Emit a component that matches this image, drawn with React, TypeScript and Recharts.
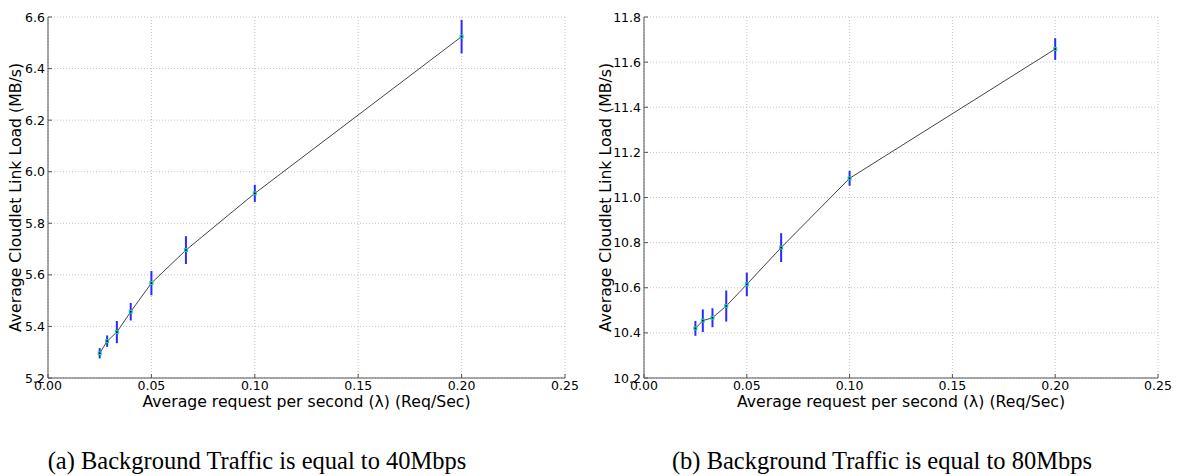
import { LineChart, Line, XAxis, YAxis, CartesianGrid, ErrorBar, Label } from "recharts";

// request rates (1/40 ... 1/5 req/sec)
const rates = [0.025, 0.0286, 0.0333, 0.04, 0.05, 0.0667, 0.1, 0.2];

// 40 Mbps background traffic
const load40 = [5.296, 5.343, 5.378, 5.457, 5.568, 5.696, 5.916, 6.524];
const err40 = [0.02, 0.022, 0.043, 0.034, 0.047, 0.054, 0.033, 0.065];

// 80 Mbps background traffic
const load80 = [10.42, 10.454, 10.467, 10.519, 10.615, 10.778, 11.085, 11.658];
const err80 = [0.033, 0.05, 0.042, 0.069, 0.052, 0.064, 0.033, 0.048];

const xTicks = [0, 0.05, 0.1, 0.15, 0.2, 0.25];
const yTicks40 = [5.2, 5.4, 5.6, 5.8, 6.0, 6.2, 6.4, 6.6];
const yTicks80 = [10.2, 10.4, 10.6, 10.8, 11.0, 11.2, 11.4, 11.6, 11.8];

const xTitle = "Average request per second (\u03bb) (Req/Sec)";
const yTitle = "Average Cloudlet Link Load (MB/s)";
const captions = [
  "(a) Background Traffic is equal to 40Mbps",
  "(b) Background Traffic is equal to 80Mbps",
];

const FONT = "'DejaVu Sans', sans-serif";
const FRAME = "#555";
const TICK_LEN = 4;
const MARGIN = 3;

function BottomTick(props: any) {
  const { x, y, payload } = props;
  const axisY = y - MARGIN;
  return (
    <g>
      <line x1={x} x2={x} y1={axisY} y2={axisY - TICK_LEN} stroke={FRAME} />
      <text x={x} y={y} dy="0.71em" textAnchor="middle" fontSize={12.5} fontFamily={FONT} fill="#000">
        {Number(payload.value).toFixed(2)}
      </text>
    </g>
  );
}

function LeftTick(props: any) {
  const { x, y, payload } = props;
  const axisX = x + MARGIN;
  return (
    <g>
      <line x1={axisX} x2={axisX + TICK_LEN} y1={y} y2={y} stroke={FRAME} />
      <text x={x} y={y} dy="0.36em" textAnchor="end" fontSize={12.5} fontFamily={FONT} fill="#000">
        {Number(payload.value).toFixed(1)}
      </text>
    </g>
  );
}

function TopTick(props: any) {
  const { x, y } = props;
  return <line x1={x} x2={x} y1={y} y2={y + TICK_LEN} stroke={FRAME} />;
}

function RightTick(props: any) {
  const { x, y } = props;
  return <line x1={x} x2={x - TICK_LEN} y1={y} y2={y} stroke={FRAME} />;
}

function Dot(props: any) {
  const { cx, cy } = props;
  if (cx == null || cy == null) return null;
  return (
    <g>
      <rect x={cx - 2} y={cy - 2} width={4} height={4} fill="#22c8b8" />
      <rect x={cx - 0.8} y={cy - 0.8} width={1.6} height={1.6} fill="#000" />
    </g>
  );
}

interface PanelProps {
  loads: number[];
  errs: number[];
  yTicks: number[];
  yAxisWidth: number;
  width: number;
  marginRight: number;
  left: number;
}

function Panel({ loads, errs, yTicks, yAxisWidth, width, marginRight, left }: PanelProps) {
  const data = rates.map((r, i) => ({ rate: r, load: loads[i], err: errs[i] }));
  const yDomain = [yTicks[0], yTicks[yTicks.length - 1]];
  return (
    <div style={{ position: "absolute", left, top: 0 }}>
      <LineChart width={width} height={420} data={data} margin={{ top: 17, right: marginRight, bottom: 0, left: 0 }}>
        <CartesianGrid stroke="#c4c4c4" strokeDasharray="1 2" horizontalValues={yTicks} verticalValues={xTicks} />
        <XAxis
          dataKey="rate"
          type="number"
          domain={[0, 0.25]}
          ticks={xTicks}
          interval={0}
          allowDataOverflow
          height={42}
          tickSize={0}
          tickMargin={MARGIN}
          stroke={FRAME}
          tick={<BottomTick />}
        >
          <Label
            content={(p: any) => (
              <text
                x={p.viewBox.x + p.viewBox.width / 2}
                y={p.viewBox.y + 23}
                dy="0.36em"
                textAnchor="middle"
                fontSize={15.7}
                fontFamily={FONT}
                fill="#000"
              >
                {xTitle}
              </text>
            )}
          />
        </XAxis>
        <XAxis
          xAxisId="top"
          orientation="top"
          type="number"
          domain={[0, 0.25]}
          ticks={xTicks}
          interval={0}
          allowDataOverflow
          height={0}
          tickSize={0}
          tickMargin={0}
          stroke={FRAME}
          tick={<TopTick />}
        />
        <YAxis
          type="number"
          domain={yDomain}
          ticks={yTicks}
          interval={0}
          allowDataOverflow
          width={yAxisWidth}
          tickSize={0}
          tickMargin={MARGIN}
          stroke={FRAME}
          tick={<LeftTick />}
        >
          <Label
            content={(p: any) => {
              const cx = p.viewBox.x + 15;
              const cy = p.viewBox.y + p.viewBox.height / 2;
              return (
                <text
                  x={cx}
                  y={cy}
                  dy="0.36em"
                  textAnchor="middle"
                  transform={`rotate(-90 ${cx} ${cy})`}
                  fontSize={15.7}
                  fontFamily={FONT}
                  fill="#000"
                >
                  {yTitle}
                </text>
              );
            }}
          />
        </YAxis>
        <YAxis
          yAxisId="right"
          orientation="right"
          type="number"
          domain={yDomain}
          ticks={yTicks}
          interval={0}
          allowDataOverflow
          width={0}
          tickSize={0}
          tickMargin={0}
          stroke={FRAME}
          tick={<RightTick />}
        />
        <Line
          dataKey="load"
          type="linear"
          stroke="#444"
          strokeWidth={1}
          dot={<Dot />}
          activeDot={false}
          isAnimationActive={false}
        >
          <ErrorBar dataKey="err" direction="y" width={0} stroke="#2a2aff" strokeWidth={2} />
        </Line>
      </LineChart>
    </div>
  );
}

export default function App() {
  return (
    <div style={{ position: "absolute", left: 0, top: 0, width: 1182, height: 476, background: "#fff" }}>
      <Panel loads={load40} errs={err40} yTicks={yTicks40} yAxisWidth={48} width={600} marginRight={35} left={0} />
      <Panel loads={load80} errs={err80} yTicks={yTicks80} yAxisWidth={54} width={592} marginRight={24} left={590} />
      {captions.map((c, i) => (
        <div
          key={c}
          style={{
            position: "absolute",
            left: i === 0 ? 257 - 300 : 882 - 300,
            width: 600,
            top: 446,
            textAlign: "center",
            fontFamily: "'Liberation Serif', serif",
            fontSize: 24.5,
            lineHeight: "30px",
            color: "#000",
          }}
        >
          {c}
        </div>
      ))}
    </div>
  );
}
